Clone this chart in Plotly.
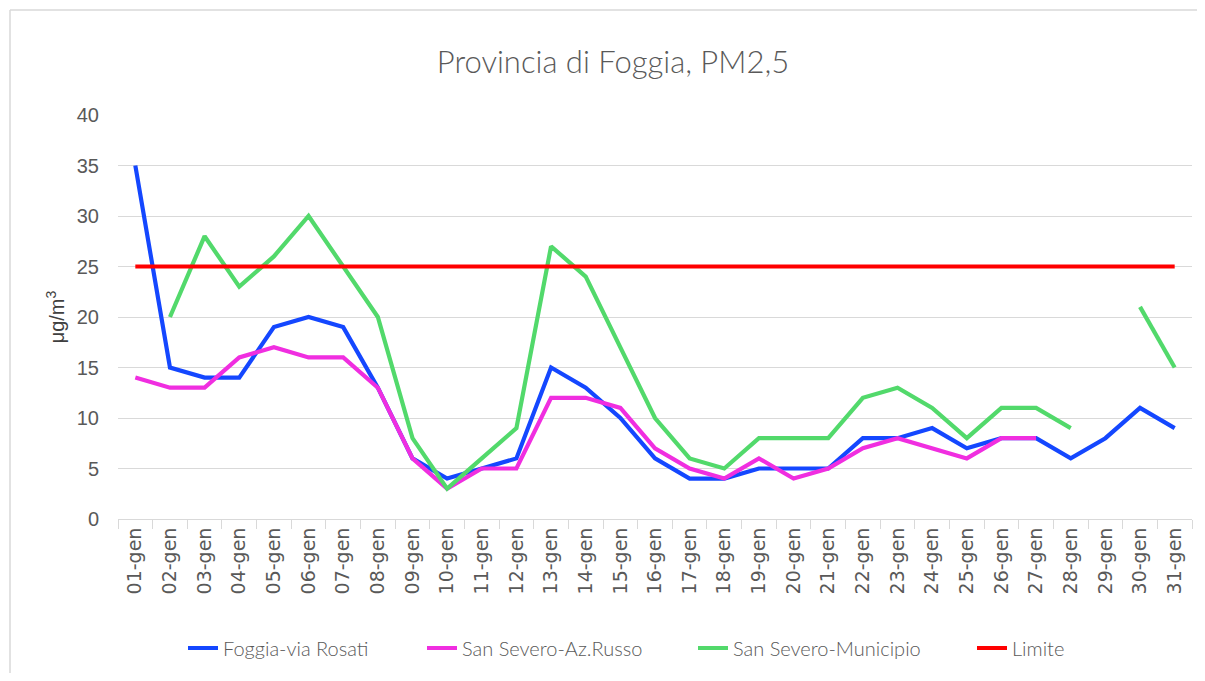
import plotly.graph_objects as go

days = [f"{d:02d}-gen" for d in range(1, 32)]

foggia_rosati = [35, 15, 14, 14, 19, 20, 19, 13, 6, 4, 5, 6, 15, 13, 10, 6, 4, 4, 5, 5, 5, 8, 8, 9, 7, 8, 8, 6, 8, 11, 9]
sansevero_russo = [14, 13, 13, 16, 17, 16, 16, 13, 6, 3, 5, 5, 12, 12, 11, 7, 5, 4, 6, 4, 5, 7, 8, 7, 6, 8, 8, None, None, None, None]
sansevero_municipio = [None, 20, 28, 23, 26, 30, 25, 20, 8, 3, 6, 9, 27, 24, 17, 10, 6, 5, 8, 8, 8, 12, 13, 11, 8, 11, 11, 9, None, 21, 15]
limite = [25] * 31

series = [
    ("Foggia-via Rosati", foggia_rosati, "#1447ff"),
    ("San Severo-Az.Russo", sansevero_russo, "#f02ee0"),
    ("San Severo-Municipio", sansevero_municipio, "#52d96b"),
    ("Limite", limite, "#ff0000"),
]

# page has an 8px body margin; work in page pixels
OFF = 8
PW, PH = 1205, 681
PL, PR, PT, PB = 118, 1192, 115, 519   # plot area in page pixels
W, H = PW - 2 * OFF, PH - 2 * OFF
L, R, T, B = PL - OFF, (OFF + W) - PR, PT - OFF, (OFF + H) - PB
pw, ph = PR - PL, PB - PT


def px_x(p):
    return (p - PL) / pw


def px_y(p):
    return (PB - p) / ph


legend_names = ["legend", "legend2", "legend3", "legend4"]
legend_x_page = [183, 422, 693, 972]

fig = go.Figure()
for (name, vals, col), lg in zip(series, legend_names):
    fig.add_trace(go.Scatter(x=days, y=vals, name=name, mode="lines", legend=lg,
                             showlegend=True,
                             line=dict(color=col, width=4.2), connectgaps=False))

legend_font = dict(family="Lato", size=20, color="#595959", weight=300)
layout_legends = {}
for lg, xp in zip(legend_names, legend_x_page):
    layout_legends[lg] = dict(orientation="h", x=px_x(xp), xanchor="left",
                              y=px_y(648), yanchor="middle", font=legend_font,
                              bgcolor="rgba(0,0,0,0)", visible=True)

fig.update_layout(
    width=W, height=H,
    showlegend=True,
    margin=dict(l=L, r=R, t=T, b=B),
    paper_bgcolor="white", plot_bgcolor="white",
    title=dict(text="Provincia di Foggia, PM2,5", xref="paper", x=px_x(613), xanchor="center",
               yref="container", y=1 - (62 - OFF) / H, yanchor="middle",
               font=dict(family="Lato", size=31, color="#595959", weight=300)),
    xaxis=dict(type="category", range=[-0.5, 30.5], tickson="boundaries", ticks="outside",
               ticklen=9, tickcolor="#d9d9d9", showline=True, linecolor="#d9d9d9", linewidth=1,
               showgrid=False, tickangle=-90,
               tickfont=dict(family="DejaVu Sans", size=19, color="#595959")),
    yaxis=dict(range=[0, 40], dtick=5, showgrid=True, gridcolor="#d9d9d9", gridwidth=1,
               zeroline=False, showline=False, ticks="", ticklabelstandoff=18,
               tickfont=dict(family="Liberation Sans", size=20, color="#595959"),
               title=dict(text="μg/m<sup>3</sup>", standoff=6,
                          font=dict(family="Liberation Sans", size=20, color="#404040"))),
    shapes=[
        dict(type="line", xref="paper", yref="paper", x0=px_x(10), x1=px_x(1200),
             y0=px_y(10), y1=px_y(10), line=dict(color="#d9d9d9", width=1.5), layer="below"),
        dict(type="line", xref="paper", yref="paper", x0=px_x(10), x1=px_x(10),
             y0=px_y(10), y1=px_y(680), line=dict(color="#d9d9d9", width=1.5), layer="below"),
    ],
    **layout_legends,
)

fig.write_html("out.html")
